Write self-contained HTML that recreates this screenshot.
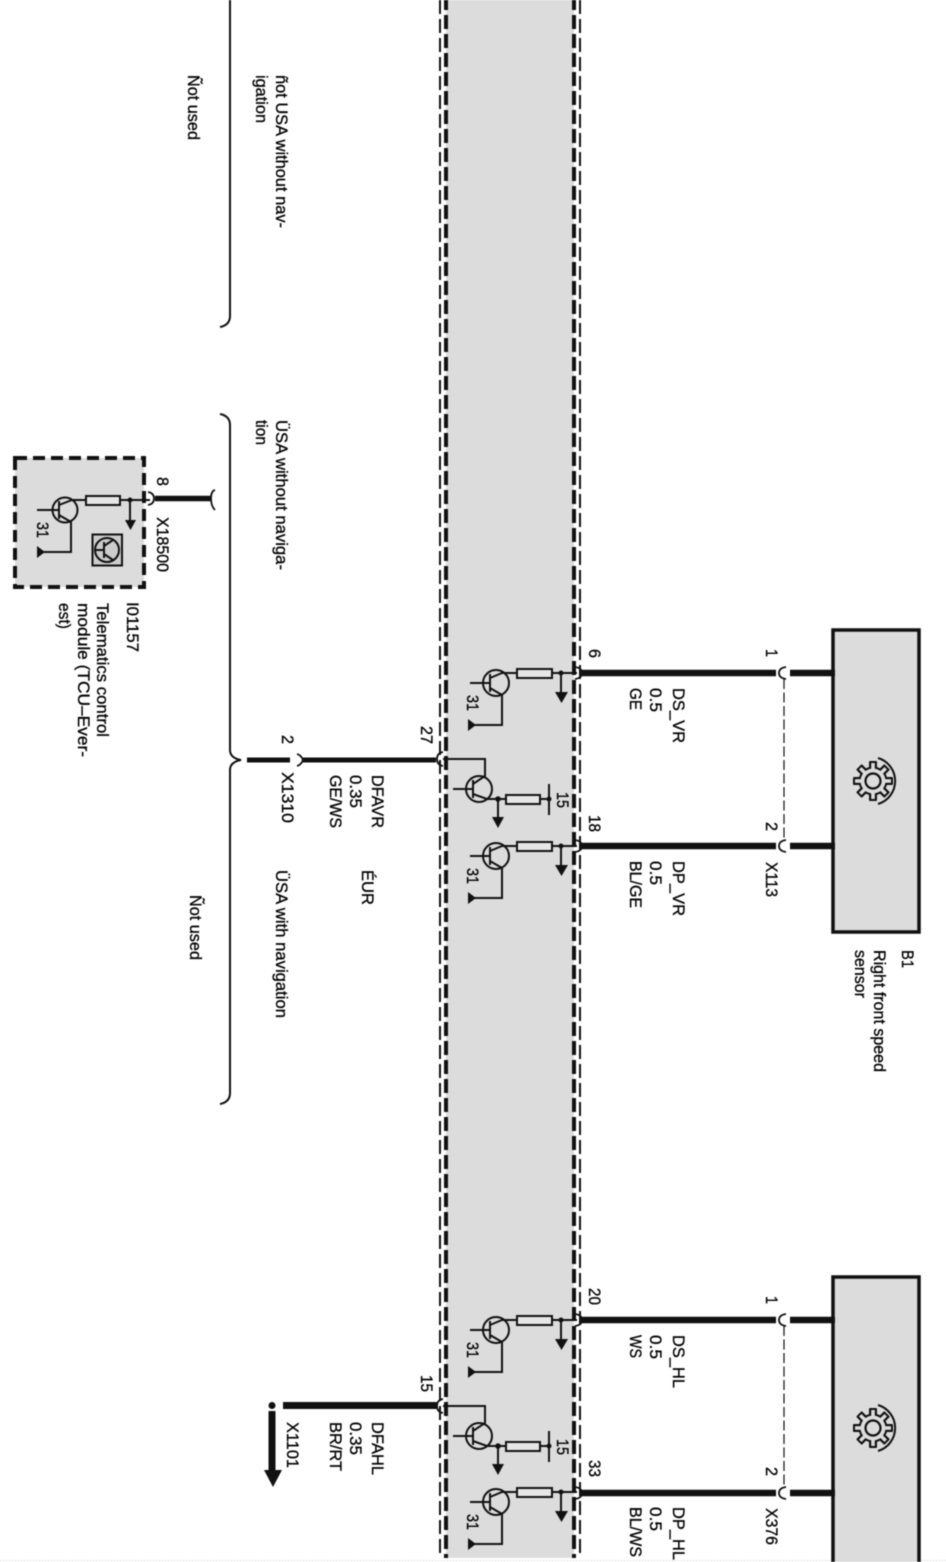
<!DOCTYPE html>
<html>
<head>
<meta charset="utf-8">
<style>
html,body{margin:0;padding:0;background:#fff;width:946px;height:1562px;overflow:hidden}
svg{display:block;filter:blur(.55px)}
text{font-family:"Liberation Sans",sans-serif;font-size:16.5px;fill:#000;stroke:#000;stroke-width:.3px}
.l{fill:none;stroke:#111;stroke-width:2}
.f{fill:none;stroke:#111;stroke-width:1.8}
</style>
</head>
<body>
<svg xmlns="http://www.w3.org/2000/svg" width="946" height="1562" viewBox="0 0 946 1562">
<defs>
<g id="tA">
  <circle class="l" cx="496" cy="683" r="13"/>
  <path class="l" d="M470 683H490M490 674V692M490 678L502 673H517M490 688L502 695V725H474"/>
  <rect x="517" y="669" width="35" height="9" fill="#e6e6e6" stroke="#111" stroke-width="2"/>
  <path class="l" d="M552 673H577M561 673V694"/>
  <circle cx="561" cy="673" r="2.500" fill="#111"/>
  <path d="M555 692H568L561.500 703Z" fill="#111"/>
  <path d="M468 719V731L476 725Z" fill="#111"/>
</g>
<g id="tB">
  <circle class="l" cx="479" cy="789" r="13"/>
  <path class="l" d="M453 789H473M473 780V798M473 784L485 776V759H443M473 794L487 799H506M498 799V819M540 799H549"/>
  <rect x="506" y="795" width="34" height="9" fill="#e6e6e6" stroke="#111" stroke-width="2"/>
  <circle cx="498" cy="799" r="2.800" fill="#111"/>
  <circle cx="549" cy="799" r="2.500" fill="#111"/>
  <path class="l" d="M549 784V815"/>
  <path d="M492 817H504L498 828Z" fill="#111"/>
</g>
<g id="gear">
  <g fill="#111">
    <rect x="-4" y="-20" width="8" height="40" rx="1"/>
    <rect x="-4" y="-20" width="8" height="40" rx="1" transform="rotate(45)"/>
    <rect x="-4" y="-20" width="8" height="40" rx="1" transform="rotate(90)"/>
    <rect x="-4" y="-20" width="8" height="40" rx="1" transform="rotate(135)"/>
  </g>
  <circle r="14.500" fill="#111"/>
  <g fill="#dcdcdc">
    <rect x="-1.800" y="-18" width="3.600" height="36"/>
    <rect x="-1.800" y="-18" width="3.600" height="36" transform="rotate(45)"/>
    <rect x="-1.800" y="-18" width="3.600" height="36" transform="rotate(90)"/>
    <rect x="-1.800" y="-18" width="3.600" height="36" transform="rotate(135)"/>
  </g>
  <circle r="12.500" fill="#dcdcdc"/>
  <circle r="7.500" fill="none" stroke="#111" stroke-width="2.200"/>
  <path d="M5 -23A24 24 0 0 1 5 23" fill="none" stroke="#111" stroke-width="2"/>
</g>
<g id="pair">
  <path d="M582 673H776M582 846H776M790 673H835M790 846H835" stroke="#111" stroke-width="6.500" fill="none"/>
  <path d="M575 667Q582 668 582 673Q582 678 575 679M575 840Q582 841 582 846Q582 851 575 852" class="f"/>
  <path d="M786 667Q779 668 779 673Q779 678 786 679M786 840Q779 841 779 846Q779 851 786 852" class="f"/>
  <path d="M784 679V840" stroke="#111" stroke-width="1.200" stroke-dasharray="10 3.500" fill="none"/>
</g>
</defs>

<!-- shaded bus -->
<rect x="446" y="0" width="128" height="1558" fill="#dcdcdc"/>
<path d="M440 0V1558M580 0V1558" stroke="#111" stroke-width="2" stroke-dasharray="14 5" fill="none"/>
<path d="M446 -4V1558M574 -4V1558" stroke="#111" stroke-width="4" stroke-dasharray="14 5" fill="none"/>
<path d="M0 1560.500H946" stroke="#ccc" stroke-width="1" stroke-dasharray="1 2"/>

<!-- braces -->
<path class="l" d="M230 0V316Q230 325 220 327"/>
<path class="l" d="M220 414Q230 416 230 425V750Q230 758 241 760Q230 762 230 770V1093Q230 1102 220 1104"/>

<!-- telematics -->
<rect x="15" y="458" width="129" height="129" fill="#dcdcdc" stroke="#111" stroke-width="4" stroke-dasharray="12 6"/>
<circle class="l" cx="65" cy="510" r="12.500"/>
<path class="l" d="M37 510H59M59 501V519M59 505L72 500H86M59 515L71 522V552H43M120 500H150M130 500V522"/>
<rect x="86" y="496" width="34" height="9" fill="#e6e6e6" stroke="#111" stroke-width="2"/>
<circle cx="130" cy="500" r="2.500" fill="#111"/>
<path d="M125 520H136L130.500 530Z" fill="#111"/>
<path d="M37 546V558L45 552Z" fill="#111"/>
<rect x="92.500" y="534.500" width="29.500" height="31" fill="#ccc" stroke="#111" stroke-width="2"/>
<circle class="l" cx="107" cy="550" r="12"/>
<path class="l" d="M95 550H104M104 542V558M104 546L113 540M104 554L113 560"/>
<path d="M155 498.500H211" stroke="#111" stroke-width="5.500"/>
<path class="f" d="M148 492Q154 493 154 498.500Q154 504 148 505M215 490Q211 491 211 498.500Q211 506 215 510"/>

<!-- transistor groups -->
<use href="#tA"/>
<use href="#tA" y="173"/>
<use href="#tA" y="647"/>
<use href="#tA" y="819"/>
<use href="#tB"/>
<use href="#tB" y="647"/>

<!-- left wires -->
<path d="M247 760H290M303 760H436" stroke="#111" stroke-width="5"/>
<path class="f" d="M443 752Q437 753 437 759Q437 765 443 766M297 754Q301 755 303 760Q301 765 297 766"/>
<path d="M283 1405.500H437" stroke="#111" stroke-width="7"/>
<path class="f" d="M443 1399Q437 1400 437 1406Q437 1412 443 1413"/>
<circle cx="272" cy="1405.500" r="3.500" fill="#111"/>
<path d="M272 1411V1472" stroke="#111" stroke-width="7"/>
<path d="M264 1470H282L273 1487Z" fill="#111"/>

<!-- right wires and sensors -->
<rect x="833" y="630" width="86" height="302" fill="#dcdcdc" stroke="#111" stroke-width="3.500"/>
<rect x="833" y="1277" width="86" height="300" fill="#dcdcdc" stroke="#111" stroke-width="3.500"/>
<use href="#pair"/>
<use href="#pair" y="647"/>
<use href="#gear" x="873" y="781"/>
<use href="#gear" x="873" y="1428"/>

<!-- labels -->
<text transform="translate(188,75) rotate(90)" textLength="65" lengthAdjust="spacingAndGlyphs">Ñot used</text>
<text transform="translate(276,75) rotate(90)" textLength="153" lengthAdjust="spacingAndGlyphs">ñot USA without nav-</text>
<text transform="translate(256,75) rotate(90)" textLength="48" lengthAdjust="spacingAndGlyphs">igation</text>
<text transform="translate(276,420) rotate(90)" textLength="150" lengthAdjust="spacingAndGlyphs">ÜSA without naviga-</text>
<text transform="translate(256,420) rotate(90)" textLength="25" lengthAdjust="spacingAndGlyphs">tion</text>
<text transform="translate(157,477) rotate(90)" textLength="9" lengthAdjust="spacingAndGlyphs">8</text>
<text transform="translate(157,517) rotate(90)" textLength="55" lengthAdjust="spacingAndGlyphs">X18500</text>
<text transform="translate(127,602) rotate(90)" textLength="50" lengthAdjust="spacingAndGlyphs">I01157</text>
<text transform="translate(97,603) rotate(90)" textLength="134" lengthAdjust="spacingAndGlyphs">Telematics control</text>
<text transform="translate(78,603) rotate(90)" textLength="154" lengthAdjust="spacingAndGlyphs">module (TCU–Ever-</text>
<text transform="translate(59,603) rotate(90)" textLength="26" lengthAdjust="spacingAndGlyphs">est)</text>
<text transform="translate(37,522) rotate(90)" textLength="16" lengthAdjust="spacingAndGlyphs">31</text>

<text transform="translate(467,695) rotate(90)" textLength="16" lengthAdjust="spacingAndGlyphs">31</text>
<text transform="translate(467,868) rotate(90)" textLength="16" lengthAdjust="spacingAndGlyphs">31</text>
<text transform="translate(467,1342) rotate(90)" textLength="16" lengthAdjust="spacingAndGlyphs">31</text>
<text transform="translate(467,1514) rotate(90)" textLength="16" lengthAdjust="spacingAndGlyphs">31</text>
<text transform="translate(557,792) rotate(90)" textLength="16" lengthAdjust="spacingAndGlyphs">15</text>
<text transform="translate(557,1439) rotate(90)" textLength="16" lengthAdjust="spacingAndGlyphs">15</text>

<text transform="translate(421,726) rotate(90)" textLength="18" lengthAdjust="spacingAndGlyphs">27</text>
<text transform="translate(421,1375) rotate(90)" textLength="17" lengthAdjust="spacingAndGlyphs">15</text>
<text transform="translate(282,735) rotate(90)" textLength="9" lengthAdjust="spacingAndGlyphs">2</text>
<text transform="translate(282,772) rotate(90)" textLength="51" lengthAdjust="spacingAndGlyphs">X1310</text>
<text transform="translate(372,775) rotate(90)" textLength="53" lengthAdjust="spacingAndGlyphs">DFAVR</text>
<text transform="translate(350,775) rotate(90)" textLength="33" lengthAdjust="spacingAndGlyphs">0.35</text>
<text transform="translate(330,775) rotate(90)" textLength="53" lengthAdjust="spacingAndGlyphs">GE/WS</text>
<text transform="translate(362,870) rotate(90)" textLength="35" lengthAdjust="spacingAndGlyphs">ÉUR</text>
<text transform="translate(276,870) rotate(90)" textLength="148" lengthAdjust="spacingAndGlyphs">ÜSA with navigation</text>
<text transform="translate(190,895) rotate(90)" textLength="65" lengthAdjust="spacingAndGlyphs">Ñot used</text>

<text transform="translate(589,649) rotate(90)" textLength="9" lengthAdjust="spacingAndGlyphs">6</text>
<text transform="translate(589,815) rotate(90)" textLength="17" lengthAdjust="spacingAndGlyphs">18</text>
<text transform="translate(589,1288) rotate(90)" textLength="17" lengthAdjust="spacingAndGlyphs">20</text>
<text transform="translate(589,1460) rotate(90)" textLength="17" lengthAdjust="spacingAndGlyphs">33</text>

<text transform="translate(673,688) rotate(90)" textLength="55" lengthAdjust="spacingAndGlyphs">DS_VR</text>
<text transform="translate(650,688) rotate(90)" textLength="24" lengthAdjust="spacingAndGlyphs">0.5</text>
<text transform="translate(630,688) rotate(90)" textLength="22" lengthAdjust="spacingAndGlyphs">GE</text>
<text transform="translate(673,861) rotate(90)" textLength="55" lengthAdjust="spacingAndGlyphs">DP_VR</text>
<text transform="translate(650,861) rotate(90)" textLength="24" lengthAdjust="spacingAndGlyphs">0.5</text>
<text transform="translate(630,861) rotate(90)" textLength="47" lengthAdjust="spacingAndGlyphs">BL/GE</text>
<text transform="translate(673,1335) rotate(90)" textLength="53" lengthAdjust="spacingAndGlyphs">DS_HL</text>
<text transform="translate(650,1335) rotate(90)" textLength="24" lengthAdjust="spacingAndGlyphs">0.5</text>
<text transform="translate(630,1335) rotate(90)" textLength="23" lengthAdjust="spacingAndGlyphs">WS</text>
<text transform="translate(673,1507) rotate(90)" textLength="53" lengthAdjust="spacingAndGlyphs">DP_HL</text>
<text transform="translate(650,1507) rotate(90)" textLength="24" lengthAdjust="spacingAndGlyphs">0.5</text>
<text transform="translate(630,1507) rotate(90)" textLength="50" lengthAdjust="spacingAndGlyphs">BL/WS</text>

<text transform="translate(766,649) rotate(90)" textLength="8" lengthAdjust="spacingAndGlyphs">1</text>
<text transform="translate(766,822) rotate(90)" textLength="9" lengthAdjust="spacingAndGlyphs">2</text>
<text transform="translate(766,862) rotate(90)" textLength="35" lengthAdjust="spacingAndGlyphs">X113</text>
<text transform="translate(766,1296) rotate(90)" textLength="8" lengthAdjust="spacingAndGlyphs">1</text>
<text transform="translate(766,1467) rotate(90)" textLength="9" lengthAdjust="spacingAndGlyphs">2</text>
<text transform="translate(766,1508) rotate(90)" textLength="37" lengthAdjust="spacingAndGlyphs">X376</text>

<text transform="translate(287,1422) rotate(90)" textLength="46" lengthAdjust="spacingAndGlyphs">X1101</text>
<text transform="translate(372,1422) rotate(90)" textLength="53" lengthAdjust="spacingAndGlyphs">DFAHL</text>
<text transform="translate(350,1422) rotate(90)" textLength="33" lengthAdjust="spacingAndGlyphs">0.35</text>
<text transform="translate(330,1422) rotate(90)" textLength="49" lengthAdjust="spacingAndGlyphs">BR/RT</text>

<text transform="translate(902,950) rotate(90)" textLength="18" lengthAdjust="spacingAndGlyphs">B1</text>
<text transform="translate(874,950) rotate(90)" textLength="122" lengthAdjust="spacingAndGlyphs">Right front speed</text>
<text transform="translate(855,950) rotate(90)" textLength="48" lengthAdjust="spacingAndGlyphs">sensor</text>
</svg>
</body>
</html>
